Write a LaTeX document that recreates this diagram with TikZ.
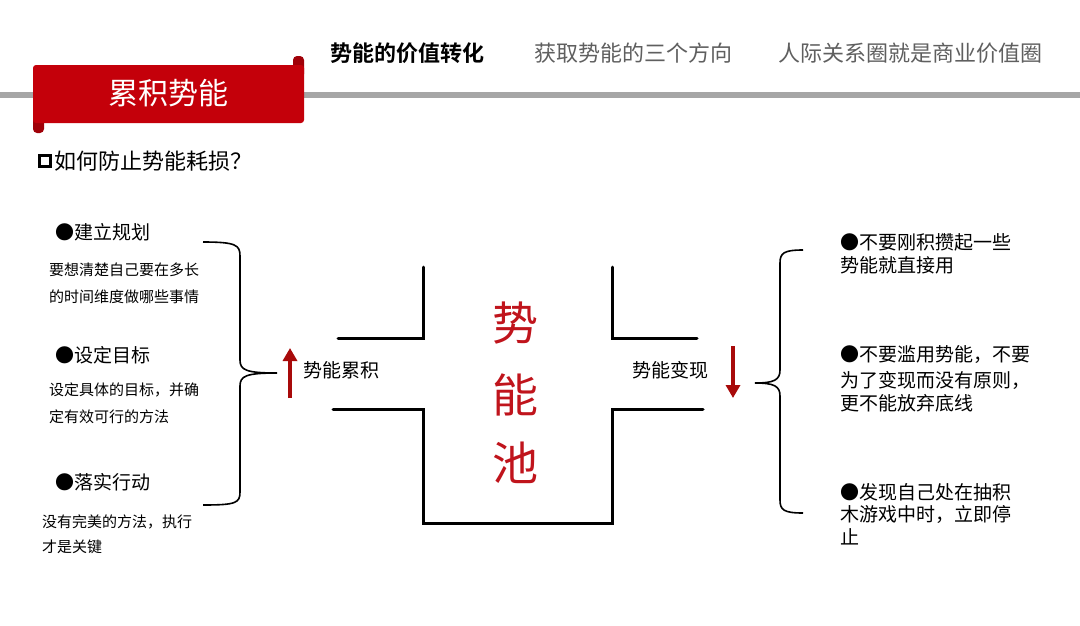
\documentclass[tikz,border=0pt]{standalone}
\usepackage{fontspec}
\newfontfamily\cjk{Noto Sans CJK SC}
\newfontfamily\cjkb{Noto Sans CJK SC Bold}
\usetikzlibrary{arrows.meta}
\definecolor{banner}{HTML}{C4000A}
\definecolor{bannerdk}{HTML}{A00008}
\definecolor{rule}{HTML}{A6A6A6}
\definecolor{navgray}{HTML}{5F5F5F}
\definecolor{arrred}{HTML}{A80A0A}
\definecolor{poolred}{HTML}{C0141C}
\tikzset{
  txt/.style={inner sep=0pt, anchor=west, text=black},
  head/.style={txt, font=\cjk\fontsize{19}{22}\selectfont},
  desc/.style={txt, font=\cjk\fontsize{15}{18}\selectfont},
  rtxt/.style={txt, font=\cjk\fontsize{19}{22}\selectfont},
  nav/.style={inner sep=0pt, anchor=west, font=\cjk\fontsize{22}{26}\selectfont, text=navgray},
  wall/.style={line width=3pt, line cap=round, line join=miter},
  brace/.style={line width=1.6pt},
  redarrow/.style={line width=4pt, arrred, -{Triangle[width=14pt,length=13pt]}},
}
\begin{document}
\begin{tikzpicture}[x=1pt,y=-1pt]
\path[use as bounding box, fill=white] (0,0) rectangle (1080,625);

% top rule
\fill[rule] (0,92) rectangle (1080,98);

% navigation
\node[nav, text=black, font=\cjkb\fontsize{22}{26}\selectfont] (nav1) at (330,53) {势能的价值转化};
\node[nav] (nav2) at (534,53) {获取势能的三个方向};
\node[nav] (nav3) at (778,53) {人际关系圈就是商业价值圈};

% banner
\fill[bannerdk, rounded corners=4pt] (33,108) rectangle (44,133);
\fill[bannerdk, rounded corners=4pt] (293,56) rectangle (304,78);
\fill[banner, rounded corners=3pt] (33,65) rectangle (304,123);
\node[inner sep=0pt, text=white, font=\cjk\fontsize{30}{34}\selectfont] (title) at (168,93) {累积势能};

% question
\node[draw=black, line width=2.6pt, minimum size=11pt, inner sep=0pt] (qbox) at (45,161) {};
\node[txt, font=\cjk\fontsize{22}{26}\selectfont] (q) at (54,161) {如何防止势能耗损？};

% left items
\node[head] (h1) at (55,232) {●建立规划};
\node[desc] (d1a) at (49,270) {要想清楚自己要在多长};
\node[desc] (d1b) at (49,297) {的时间维度做哪些事情};
\node[head] (h2) at (55,355) {●设定目标};
\node[desc] (d2a) at (49,390) {设定具体的目标，并确};
\node[desc] (d2b) at (49,417) {定有效可行的方法};
\node[head] (h3) at (55,482) {●落实行动};
\node[desc] (d3a) at (42,522) {没有完美的方法，执行};
\node[desc] (d3b) at (42,547) {才是关键};

% left brace
\coordinate (lbt) at (203,242);
\coordinate (lbm) at (277,373);
\coordinate (lbb) at (203,505);
\draw[brace] (lbt) .. controls (236,242) and (240,245) .. (240,256) -- (240,360)
  .. controls (240,370) and (246,373) .. (lbm)
  .. controls (246,373) and (240,376) .. (240,386) -- (240,492)
  .. controls (240,503) and (236,505) .. (lbb);

% left arrow and label
\coordinate (lafrom) at (290,398);
\coordinate (lato) at (290,348);
\draw[redarrow] (lafrom) -- (lato);
\node[txt, font=\cjk\fontsize{19}{22}\selectfont] (acc) at (303,370) {势能累积};

% pool
\draw[wall] (423,267) -- (423,338) -- (338,338);
\draw[wall] (612,267) -- (612,338) -- (697,338);
\draw[wall] (333,409) -- (423,409) -- (423,523) -- (612,523) -- (612,409) -- (703,409);
\node[inner sep=0pt, text=poolred, font=\cjk\fontsize{46}{52}\selectfont] (p1) at (515,323) {势};
\node[inner sep=0pt, text=poolred, font=\cjk\fontsize{46}{52}\selectfont] (p2) at (515,395) {能};
\node[inner sep=0pt, text=poolred, font=\cjk\fontsize{46}{52}\selectfont] (p3) at (515,463) {池};

% right label and arrow
\node[txt, font=\cjk\fontsize{19}{22}\selectfont] (real) at (632,370) {势能变现};
\coordinate (rafrom) at (733,346);
\coordinate (rato) at (733,398);
\draw[redarrow] (rafrom) -- (rato);

% right brace
\coordinate (rbt) at (803,250);
\coordinate (rbm) at (755,383);
\coordinate (rbb) at (803,513);
\draw[brace] (rbt) .. controls (784,250) and (780,253) .. (780,263) -- (780,370)
  .. controls (780,380) and (774,383) .. (rbm)
  .. controls (774,383) and (780,386) .. (780,396) -- (780,500)
  .. controls (780,510) and (784,513) .. (rbb);

% right items
\node[rtxt] (r1a) at (840,242) {●不要刚积攒起一些};
\node[rtxt] (r1b) at (840,265) {势能就直接用};
\node[rtxt] (r2a) at (840,355) {●不要滥用势能，不要};
\node[rtxt] (r2b) at (840,380) {为了变现而没有原则，};
\node[rtxt] (r2c) at (840,403) {更不能放弃底线};
\node[rtxt] (r3a) at (840,492) {●发现自己处在抽积};
\node[rtxt] (r3b) at (840,514) {木游戏中时，立即停};
\node[rtxt] (r3c) at (840,537) {止};
\end{tikzpicture}
\end{document}
